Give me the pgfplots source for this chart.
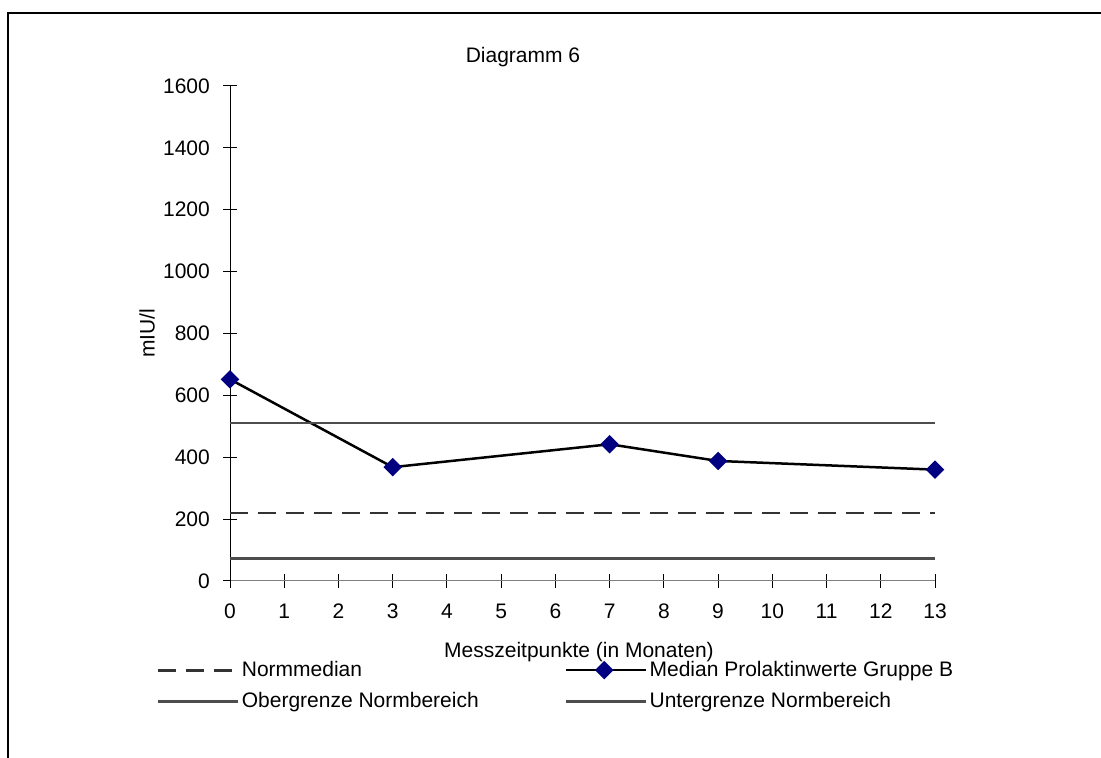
\documentclass[border=0pt]{standalone}
\usepackage{pgfplots}
\pgfplotsset{compat=1.18}
\usepackage{fontspec}
\setmainfont{Liberation Sans}
\definecolor{navy}{HTML}{000080}
\definecolor{refgray}{HTML}{4D4D4D}
\definecolor{dashgray}{HTML}{333333}
\newcommand{\reffont}{\fontsize{21}{25}\selectfont}
\begin{document}
\reffont
\begin{tikzpicture}[font=\reffont]
\useasboundingbox (0,0) rectangle (1101pt,758pt);
\draw[line width=1.5pt] (8pt,0pt) -- (8pt,745pt) -- (1101pt,745pt);
\begin{axis}[
  at={(230pt,177pt)}, anchor=south west,
  scale only axis, width=705pt, height=495pt,
  xmin=0, xmax=13, ymin=0, ymax=1600,
  xtick={0,1,...,13}, ytick={0,200,...,1600},
  axis x line*=bottom, axis y line*=left,
  x axis line style={-, draw=gray, line width=1pt},
  y axis line style={-, draw=black, line width=1pt},
  tick align=center, major tick length=14pt,
  tick style={black, line width=1pt},
  /pgf/number format/assume math mode=true,
  /pgf/number format/1000 sep={},
  tick label style={font=\reffont},
  yticklabel style={xshift=-6pt},
  xticklabel style={yshift=-9pt},
  title={Diagramm 6},
  title style={at={(0.4156,1.0465)}, anchor=center, font=\reffont},
  xlabel={Messzeitpunkte (in Monaten)},
  ylabel={mIU/l},
  label style={font=\reffont},
  every axis x label/.style={at={(axis description cs:0.495,-0.143)}, anchor=center, font=\reffont},
  every axis y label/.style={at={(axis description cs:-0.1177,0.5)}, rotate=90, anchor=center, font=\reffont},
  legend columns=2,
  legend style={at={(axis description cs:-0.108,-0.153)}, anchor=north west, draw=none, fill=none, font=\reffont,
    row sep=9pt, /tikz/every even column/.append style={column sep=84pt}},
  legend cell align=left,
  legend image code/.code={\path (0pt,0pt) -- (80pt,0pt);\draw[mark repeat=2,mark phase=2,#1] plot coordinates {(0pt,0pt) (38pt,0pt) (76pt,0pt)};},
]
\addplot[dashgray, line width=2.8pt, dash pattern=on 18pt off 10pt] coordinates {(0,220) (13,220)};
\addlegendentry{Normmedian}
\addplot[black, line width=2.5pt, mark=square*, mark size=5.3pt, mark options={rotate=45, fill=navy, draw=navy, solid}] coordinates {(0,652) (3,368) (7,442) (9,388) (13,360)};
\addlegendentry{Median Prolaktinwerte Gruppe B}
\addplot[refgray, line width=2.5pt] coordinates {(0,511) (13,511)};
\addlegendentry{Obergrenze Normbereich}
\addplot[refgray, line width=2.8pt] coordinates {(0,74) (13,74)};
\addlegendentry{Untergrenze Normbereich}
\end{axis}
\end{tikzpicture}
\end{document}
